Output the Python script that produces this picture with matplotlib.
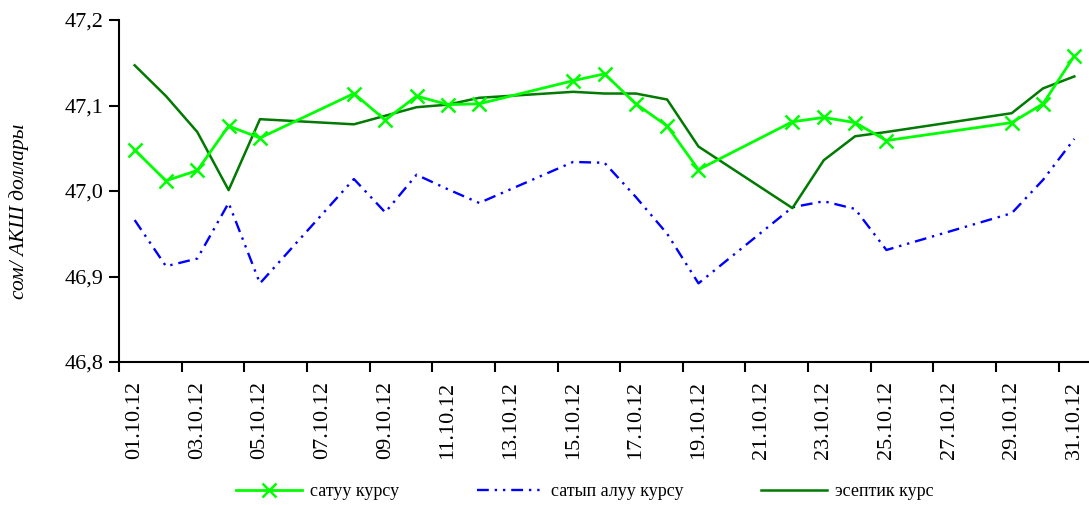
import numpy as np
import matplotlib.pyplot as plt

# === Данные (октябрь 2012) ===
days = [1, 2, 3, 4, 5, 8, 9, 10, 11, 12, 15, 16, 17, 18, 19, 22, 23, 24, 25, 29, 30, 31]

satuu = [47.048, 47.012, 47.024, 47.076, 47.062, 47.114, 47.083, 47.111, 47.101, 47.102,
         47.129, 47.137, 47.102, 47.076, 47.025, 47.081, 47.086, 47.080, 47.059, 47.080,
         47.102, 47.158]

satyp_aluu = [46.966, 46.912, 46.921, 46.986, 46.892, 47.014, 46.975, 47.019, 47.002, 46.986,
              47.034, 47.033, 46.993, 46.950, 46.892, 46.981, 46.988, 46.979, 46.931, 46.974,
              47.013, 47.061]

eseptik = [47.147, 47.111, 47.069, 47.001, 47.084, 47.078, 47.088, 47.098, 47.101, 47.109,
           47.116, 47.114, 47.114, 47.107, 47.052, 46.980, 47.036, 47.064, 47.069, 47.091,
           47.120, 47.134]

label_days = list(range(1, 32, 2))
x_labels = ["%02d.10.12" % d for d in label_days]
y_ticks = [46.8, 46.9, 47.0, 47.1, 47.2]

plt.rcParams['font.family'] = ['Liberation Serif', 'DejaVu Serif']

fig = plt.figure(figsize=(10.89, 5.05), dpi=100)
ax = fig.add_axes([119 / 1089, 143 / 505, 971 / 1089, 342 / 505])

ax.plot(days, satuu, color="#00ff00", lw=2, marker='x', markersize=10, mew=1.8,
        label="сатуу курсу", zorder=3)
ax.plot(days, satyp_aluu, color="#0000ff", lw=1.7, linestyle=(0, (5, 2.5, 1, 2.5, 1, 2.5)),
        label="сатып алуу курсу")
ax.plot(days, eseptik, color="#007a00", lw=1.8, label="эсептик курс")

# оси
ax.set_xlim(0.5, 31.5)
ax.set_ylim(46.8, 47.2)
ax.set_yticks(y_ticks)
ax.set_yticklabels([("%.1f" % v).replace('.', ',') for v in y_ticks], fontsize=16)
ax.set_xticks(np.arange(0.5, 31.5, 2))
ax.set_xticklabels([])
ax.set_xticks(label_days, minor=True)
ax.set_xticklabels(x_labels, minor=True, rotation=90, fontsize=16)
ax.tick_params(axis='x', which='minor', length=0, pad=14)
ax.tick_params(axis='x', which='major', length=7, width=1.5, direction='out')
ax.tick_params(axis='y', length=7, width=1.5, direction='out', pad=4)

for s in ['top', 'right']:
    ax.spines[s].set_visible(False)
for s in ['left', 'bottom']:
    ax.spines[s].set_linewidth(1.5)

ax.set_ylabel("сом/ АКШ доллары", fontsize=15.5, style='italic')
ax.yaxis.set_label_coords(-0.093, 0.44)

fig.legend(loc='center', bbox_to_anchor=(0.537, 0.026), ncol=3, frameon=False,
           fontsize=13, handlelength=3.65, columnspacing=4.3, handletextpad=0.45)

plt.savefig("out.png", dpi=100)
